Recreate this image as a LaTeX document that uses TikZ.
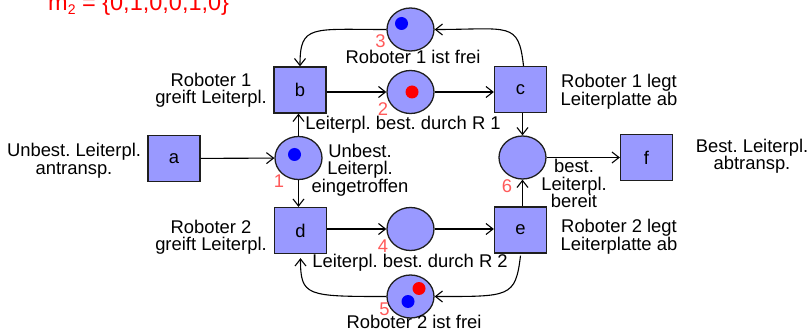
\documentclass[tikz,border=0pt]{standalone}
\usepackage{fontspec}
\setmainfont{Liberation Sans}
\usetikzlibrary{shapes.geometric,arrows.meta}
\definecolor{netfill}{RGB}{153,153,255}
\definecolor{netline}{RGB}{30,30,30}
\definecolor{numred}{RGB}{255,90,90}
\frenchspacing
\begin{document}
\begin{tikzpicture}[x=1pt,y=-1pt,
  every node/.style={font=\fontsize{18.4}{17.5}\selectfont},
  trans/.style={rectangle,draw=netline,fill=netfill,line width=1.3pt,
    minimum width=52pt,minimum height=46pt,inner sep=0pt},
  place/.style={ellipse,draw=netline,fill=netfill,line width=1.3pt,
    minimum width=47pt,minimum height=43pt,inner sep=0pt},
  token/.style={circle,inner sep=0pt,minimum size=13pt},
  arc/.style={line width=1.1pt,-{Straight Barb[length=7pt,width=11pt]}},
  lbl/.style={align=center,inner sep=0pt},
  num/.style={text=numred,inner sep=0pt}]
\fill[white] (0,0) rectangle (811,331);
\useasboundingbox (0,0) rectangle (811,331);

% marking vector
\node[anchor=base west,inner sep=0pt,text=red,font=\fontsize{23.5}{24}\selectfont] (mark) at (48,11)
  {m\raisebox{-4pt}{\fontsize{14}{14}\selectfont 2} = \{0,1,0,0,1,0\}};

% transitions
\node[trans] (a) at (174,158.5) {a};
\node[trans] (b) at (300,90) {b};
\node[trans] (c) at (520.5,89.5) {c};
\node[trans] (d) at (300.5,230.5) {d};
\node[trans] (e) at (520.5,230) {e};
\node[trans] (f) at (646.5,157.5) {f};

% places
\node[place] (p1) at (298.5,158) {};
\node[place] (p2) at (410.5,92) {};
\node[place] (p3) at (410.5,29.5) {};
\node[place] (p4) at (410.5,229) {};
\node[place] (p5) at (410.5,296.5) {};
\node[place] (p6) at (522.5,157.5) {};

% tokens
\node[token,fill=blue] (k1) at (294.5,154.5) {};
\node[token,fill=red] (k2) at (412,92) {};
\node[token,fill=blue] (k3) at (401.5,23.5) {};
\node[token,fill=red] (k5r) at (419,288.5) {};
\node[token,fill=blue] (k5b) at (408,301.5) {};

% place numbers
\node[num] (n1) at (279,181.5) {1};
\node[num] (n2) at (383,109) {2};
\node[num] (n3) at (380.5,41.5) {3};
\node[num] (n4) at (383,246.5) {4};
\node[num] (n5) at (384.5,309) {5};
\node[num] (n6) at (507,186) {6};

% descriptions
\node[lbl] (ta) at (74,160.8) {Unbest. Leiterpl.\\antransp.};
\node[lbl] (tb) at (211,90.3) {Roboter 1\\greift Leiterpl.};
\node[lbl] (td) at (211,237.3) {Roboter 2\\greift Leiterpl.};
\node[lbl] (tc) at (619,91.5) {Roboter 1 legt\\Leiterplatte ab};
\node[lbl] (te) at (619,236.8) {Roboter 2 legt\\Leiterplatte ab};
\node[lbl] (tf) at (752,156.3) {Best. Leiterpl.\\abtransp.};
\node[lbl] (tp1) at (360,170) {Unbest.\\Leiterpl.\\eingetroffen};
\node[lbl] (tp6) at (574,183.5) {best.\\Leiterpl.\\bereit};
\node[lbl] (tp2) at (403,124.3) {Leiterpl. best. durch R 1};
\node[lbl] (tp3) at (413,57.3) {Roboter 1 ist frei};
\node[lbl] (tp4) at (410,262.3) {Leiterpl. best. durch R 2};
\node[lbl] (tp5) at (414,322.3) {Roboter 2 ist frei};

% straight arcs
\draw[arc] (a) -- (p1);
\draw[arc] (p1.north) -- (p1.north |- b.south);
\draw[arc] (p1.south) -- (p1.south |- d.north);
\draw[arc] (b.east |- p2.west) -- (p2.west);
\draw[arc] (p2.east) -- (p2.east -| c.west);
\draw[arc] (c.south -| p6.north) -- (p6.north);
\draw[arc] (e.north -| p6.south) -- (p6.south);
\draw[arc] (p6) -- (f);
\draw[arc] (d.east |- p4.west) -- (p4.west);
\draw[arc] (p4.east) -- (p4.east -| e.west);

% curved arcs of the robot cycles
\draw[arc] (c.north) ++(3,0) .. controls +(-5,-45) and +(75,0) .. (p3.east);
\draw[arc] (p3.west) .. controls +(-75,0) and +(0,-42) .. (b.north);
\draw[arc] (e.south) ++(0,2) .. controls +(-5,42) and +(75,0) .. (p5.east);
\draw[arc,shorten >=4pt] (p5.west) .. controls +(-80,0) and +(0,42) .. (d.south);
\end{tikzpicture}
\end{document}
